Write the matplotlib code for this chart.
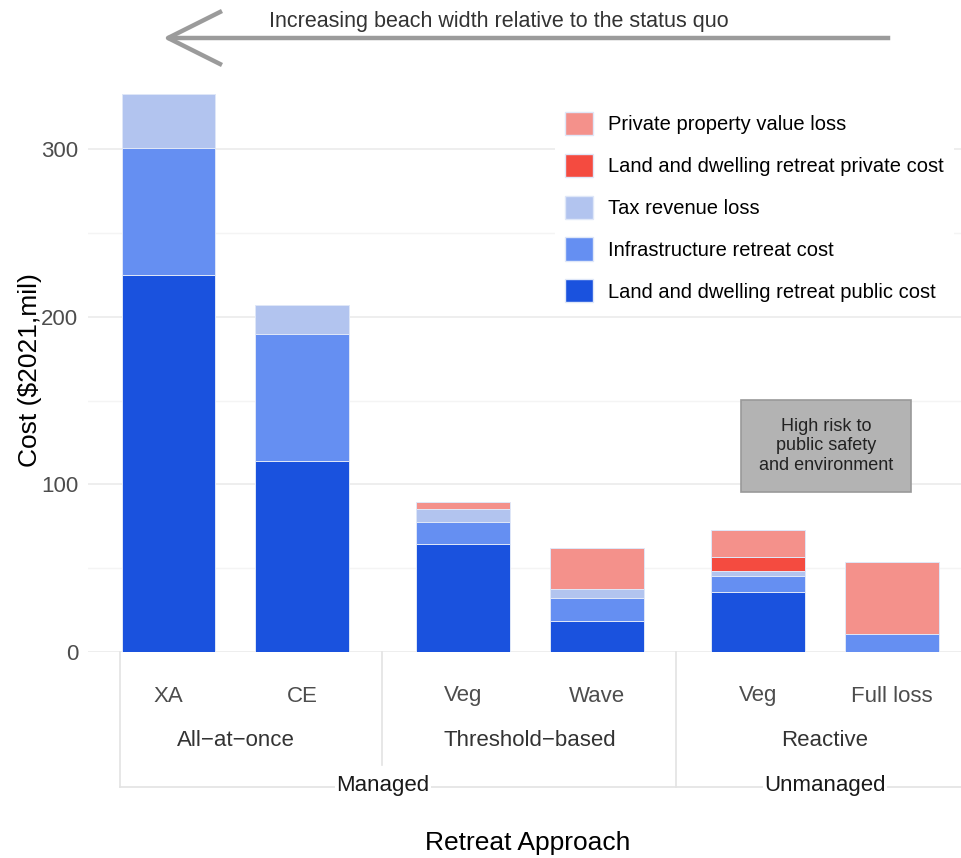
import matplotlib
matplotlib.use("Agg")
import matplotlib.pyplot as plt
from matplotlib.lines import Line2D
from matplotlib.patches import Patch
import matplotlib.transforms as mtransforms

# --- data ---
categories = ['XA', 'CE', 'Veg', 'Wave', 'Veg', 'Full loss']
positions = [0.0, 1.0, 2.2, 3.2, 4.4, 5.4]
groups = ['All\u2212at\u2212once', 'Threshold\u2212based', 'Reactive']
group_centers = [0.5, 2.7, 4.9]
top_groups = ['Managed', 'Unmanaged']
top_centers = [1.6, 4.9]

public_cost = [224.8, 113.9, 64.4, 18.5, 35.6, 0.0]
infra_cost = [75.7, 75.7, 13.1, 13.7, 9.9, 10.5]
tax_loss = [32.2, 17.3, 7.8, 5.4, 3.0, 0.0]
private_cost = [0.0, 0.0, 0.0, 0.0, 8.1, 0.0]
property_loss = [0.0, 0.0, 4.1, 24.4, 16.1, 43.0]

series = [
    ('Land and dwelling retreat public cost', public_cost, '#1a52de'),
    ('Infrastructure retreat cost', infra_cost, '#658ff2'),
    ('Tax revenue loss', tax_loss, '#b2c4ef'),
    ('Land and dwelling retreat private cost', private_cost, '#f44b40'),
    ('Private property value loss', property_loss, '#f4918b'),
]

W, H = 961, 858
plt.rcParams['font.family'] = ['Liberation Sans', 'DejaVu Sans']
fig = plt.figure(figsize=(W / 100, H / 100), dpi=100)


def fx(x):
    return x / W


def fy(y):
    return 1 - y / H


ax = fig.add_axes([fx(88), fy(652), fx(961) - fx(88), fy(67) - fy(652)])
ax.set_xlim(-0.6, -0.6 + (961 - 88) / 134.0)
ax.set_ylim(0, 349)

bottom = [0.0] * len(categories)
for name, vals, col in series:
    ax.bar(positions, vals, width=0.7, bottom=bottom, color=col,
           edgecolor='#dfe7f8', linewidth=0.7, zorder=3)
    bottom = [b + v for b, v in zip(bottom, vals)]

for s in ax.spines.values():
    s.set_visible(False)
ax.set_yticks([0, 100, 200, 300])
ax.set_yticks([50, 150, 250], minor=True)
ax.grid(axis='y', which='major', color='#ebebeb', lw=1.2, zorder=0)
ax.grid(axis='y', which='minor', color='#f4f4f4', lw=1.0, zorder=0)
ax.tick_params(axis='y', which='both', length=0, pad=7, labelsize=16, labelcolor='#4d4d4d')
ax.set_xticks([])

# category and facet labels below the axis
tr = mtransforms.blended_transform_factory(ax.transData, fig.transFigure)
for p, c in zip(positions, categories):
    ax.text(p, fy(696), c, transform=tr, ha='center', va='center', fontsize=16, color='#4d4d4d')
for p, g in zip(group_centers, groups):
    ax.text(p, fy(740), g, transform=tr, ha='center', va='center', fontsize=16, color='#333333')

strip_col = '#e3e3e3'
fig.add_artist(Line2D([fx(120), fx(120)], [fy(652), fy(787)], color=strip_col, lw=1.2))
fig.add_artist(Line2D([fx(382), fx(382)], [fy(652), fy(765)], color=strip_col, lw=1.2))
fig.add_artist(Line2D([fx(676), fx(676)], [fy(652), fy(787)], color=strip_col, lw=1.2))
fig.add_artist(Line2D([fx(120), fx(961)], [fy(787), fy(787)], color=strip_col, lw=1.2, zorder=0.5))
for p, g in zip(top_centers, top_groups):
    fig.text(ax.transData.transform((p, 0))[0] / W, fy(785), g, ha='center', va='center', fontsize=16,
             color='#1a1a1a', bbox=dict(facecolor='white', edgecolor='none', pad=1), zorder=5)

fig.text(fx(30), fy(370), 'Cost ($2021,mil)', rotation=90, ha='center', va='center', fontsize=19)
fig.text(fx(528), fy(843), 'Retreat Approach', ha='center', va='center', fontsize=19)

# arrow at the top
arrow_col = '#9b9b9b'
fig.add_artist(Line2D([fx(888), fx(170)], [fy(38), fy(38)], color=arrow_col, lw=3.2))
fig.add_artist(Line2D([fx(220), fx(168), fx(220)], [fy(12), fy(38), fy(64)], color=arrow_col, lw=3.2))
fig.text(fx(499), fy(22), 'Increasing beach width relative to the status quo', ha='center', va='center',
         fontsize=15.5, color='#333333')

# gray note box
ax.text(4.907, 122.9, 'High risk to\npublic safety\nand environment', ha='center', va='center',
        fontsize=13, color='#222222', linespacing=1.2,
        bbox=dict(boxstyle='square,pad=1.0', facecolor='#b3b3b3', edgecolor='#999999', lw=1.2), zorder=4)

# legend
handles = [Patch(facecolor=col, edgecolor='#dfe7f8', label=name) for name, vals, col in reversed(series)]
leg = ax.legend(handles=handles, loc='upper left', bbox_to_anchor=(fx(555), fy(102)),
                bbox_transform=fig.transFigure, fontsize=14.5, frameon=True, handlelength=1.4,
                handleheight=1.4, labelspacing=0.92, handletextpad=0.75, borderpad=0.5, borderaxespad=0)
leg.get_frame().set_facecolor('white')
leg.get_frame().set_edgecolor('none')
leg.get_frame().set_alpha(1)
leg.set_zorder(6)

fig.savefig('out.png', dpi=100)
